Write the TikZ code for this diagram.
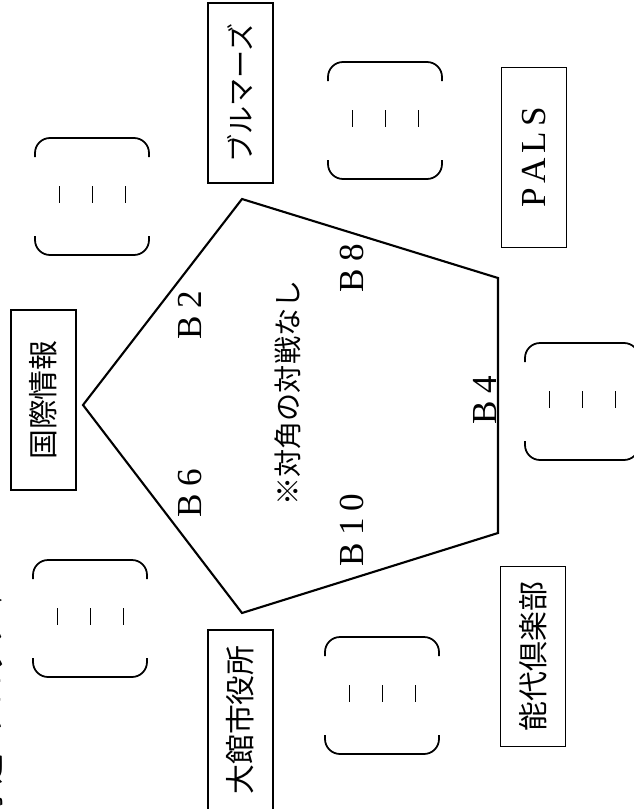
\documentclass[tikz,border=0pt]{standalone}
\usepackage{fontspec}
\setmainfont{Liberation Serif}
\newfontfamily\jp{Noto Sans CJK JP}
\usepackage{tikz}
\tikzset{
    team/.style={draw, line width=1pt, rotate=90, inner sep=0pt,
        minimum width=3.6cm, minimum height=1.3cm,
        font=\jp\fontsize{17}{20}\selectfont},
    lbl/.style={rotate=90, inner sep=0pt, font=\fontsize{20}{22}\selectfont},
    cup/.style={line width=1pt, rounded corners=0.3cm},
}

\begin{document}
\begin{tikzpicture}[x=0.02cm, y=-0.02cm]
    \path[use as bounding box, clip] (0,0) rectangle (634,809);

    \coordinate (K) at (83,405);
    \coordinate (T) at (242,199);
    \coordinate (R1) at (498,278);
    \coordinate (R2) at (498,533);
    \coordinate (U) at (242,613);

    % Title (cut off at the edge)
    \node[rotate=90, anchor=base, font=\jp\fontsize{17}{20}\selectfont] (title) at (1,700) {予選Bブロック▼};

    % Pentagon
    \draw[line width=1.2pt, line join=miter] (K) -- (T) -- (R1) -- (R2) -- (U) -- cycle;

    % Corner labels
    \node[lbl] (b2) at (190,315) {B\hspace{0.14cm}2};
    \node[lbl] (b6) at (190,493) {B\hspace{0.14cm}6};
    \node[lbl] (b8) at (352,268) {B\hspace{0.14cm}8};
    \node[lbl] (b10) at (352,530) {B\hspace{0.14cm}1\hspace{0.14cm}0};
    \node[lbl] (b4) at (485,400) {B\hspace{0.14cm}4};
    \node[rotate=90, inner sep=0pt, font=\jp\fontsize{16}{18}\selectfont] (note) at (288,393) {※対角の対戦なし};

    % Teams
    \node[team] (kokusai) at (43.5,400) {国際情報};
    \node[team, font=\jp\fontsize{16}{18}\selectfont] (bulls) at (240.5,93) {ブルマーズ};
    \node[team, font=\fontsize{20}{22}\selectfont] (pals) at (534,157.5) {P\hspace{0.1cm}A\hspace{0.1cm}L\hspace{0.1cm}S};
    \node[team] (noshiro) at (533,656.5) {能代倶楽部};
    \node[team] (odate) at (240.5,720) {大館市役所};

    % Bracket #1
    \begin{scope}[shift={(35,138)}]
        \draw[cup] (0,19) -- (0,0) -- (114,0) -- (114,19);
        \draw[cup] (0,98) -- (0,117) -- (114,117) -- (114,98);
        \foreach \x in {24,57,90} \draw[thin] (\x,48) -- (\x,65);
    \end{scope}

    % Bracket #2
    \begin{scope}[shift={(33,560)}]
        \draw[cup] (0,19) -- (0,0) -- (114,0) -- (114,19);
        \draw[cup] (0,98) -- (0,117) -- (114,117) -- (114,98);
        \foreach \x in {24,57,90} \draw[thin] (\x,48) -- (\x,65);
    \end{scope}

    % Bracket #3
    \begin{scope}[shift={(328,62)}]
        \draw[cup] (0,19) -- (0,0) -- (114,0) -- (114,19);
        \draw[cup] (0,98) -- (0,117) -- (114,117) -- (114,98);
        \foreach \x in {24,57,90} \draw[thin] (\x,48) -- (\x,65);
    \end{scope}

    % Bracket #4
    \begin{scope}[shift={(525,343)}]
        \draw[cup] (0,19) -- (0,0) -- (114,0) -- (114,19);
        \draw[cup] (0,98) -- (0,117) -- (114,117) -- (114,98);
        \foreach \x in {24,57,90} \draw[thin] (\x,48) -- (\x,65);
    \end{scope}

    % Bracket #5
    \begin{scope}[shift={(325,637)}]
        \draw[cup] (0,19) -- (0,0) -- (114,0) -- (114,19);
        \draw[cup] (0,98) -- (0,117) -- (114,117) -- (114,98);
        \foreach \x in {24,57,90} \draw[thin] (\x,48) -- (\x,65);
    \end{scope}
\end{tikzpicture}
\end{document}
